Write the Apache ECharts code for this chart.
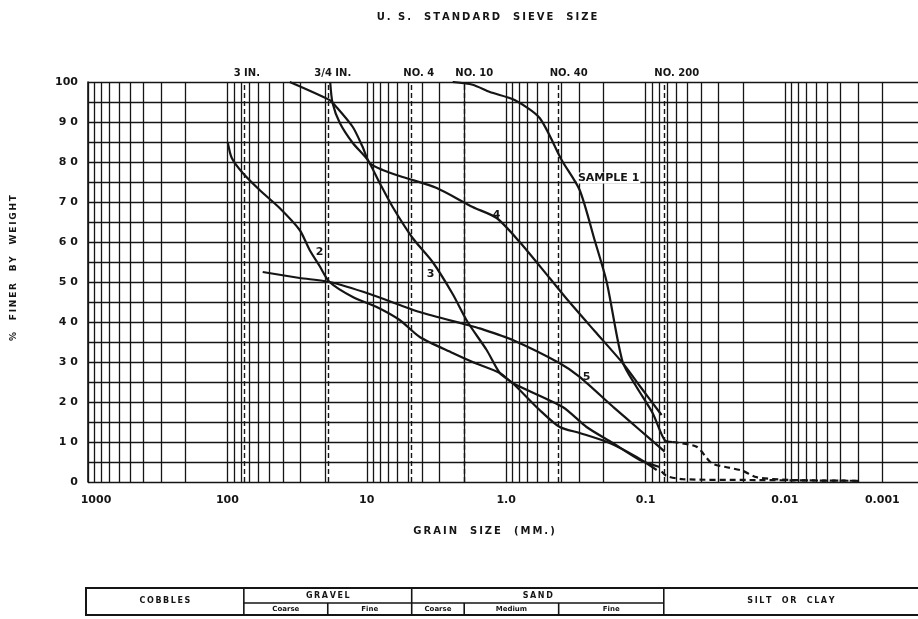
<!DOCTYPE html>
<html>
<head>
<meta charset="utf-8">
<script src="https://cdn.jsdelivr.net/npm/echarts@6/dist/echarts.min.js"></script>
<style>
  html, body { margin: 0; padding: 0; background: #fff; }
  #chart { width: 918px; height: 619px; }
</style>
</head>
<body>
<div id="chart"></div>
<script>
// grain size (mm) , % finer by weight
var sample1 = [[2.42,100],[1.74,99.3],[1.31,97.5],[0.87,95.5],[0.575,91],[0.40,80.5],[0.297,73],[0.232,60.5],[0.19,50],[0.146,30],[0.116,23.75],[0.089,17.25],[0.073,10.5],[0.064,10]];
var sample1Fines = [[0.064,10],[0.043,8.8],[0.0336,4.7],[0.0271,3.8],[0.0201,2.8],[0.016,1.2],[0.0093,0.5],[0.0029,0.3]];
var sample2 = [[99.5,85],[93,81],[77.6,77.25],[58.7,73],[42.2,68.5],[30.3,63],[25.7,58],[21.8,54],[18.5,50],[12.6,46.25],[8.49,43.75],[5.81,40.5],[4.17,36.25],[2.42,32.25],[1.74,30],[1.11,27.25],[0.90,24.75],[0.393,18.75],[0.265,13.75],[0.172,9.75],[0.110,5.5],[0.0792,3.75]];
var sample3 = [[18.3,100],[17.6,94.75],[15.6,89.75],[12.6,84.75],[9.85,80.5],[8.08,74.75],[6.52,68.75],[4.69,61],[3.37,55],[2.42,47],[1.89,40],[1.38,33],[1.11,27.25],[0.90,24.75],[0.575,18],[0.413,13.75],[0.297,12.25],[0.181,9.75],[0.116,6.25],[0.0832,3]];
var sample4 = [[35.7,100],[18.5,95.5],[17.0,94.25],[12.6,88.75],[10.7,83.75],[9.53,79.75],[7.69,78],[5.53,76.25],[3.15,73.5],[1.74,68.75],[1.17,66],[0.80,60],[0.488,51],[0.362,45.5],[0.232,37.75],[0.146,29.75],[0.110,24],[0.0767,16.75]];
var sample5 = [[55.8,52.5],[30.3,51],[18.5,50],[9.53,47],[4.17,42.5],[1.89,39.25],[1.55,38.4],[0.898,35.5],[0.413,29.7],[0.297,26.3],[0.171,18.8],[0.110,13],[0.0729,7.6]];
var finesLow = [[0.0767,2.6],[0.0706,1.5],[0.0542,0.7],[0.0179,0.5],[0.0029,0.3]];

// curve tags: [text, size mm, % finer]
var curveTags = [['SAMPLE 1',0.184,76],['2',21.8,57.5],['3',3.48,52],['4',1.17,66.75],['5',0.265,26.25]];

// sieve openings (mm)
var sieveNames = ['3 IN.','3/4 IN.','NO. 4','NO. 10','NO. 40','NO. 200'];
var sieveSizes = [76.2, 19.05, 4.76, 2.0, 0.42, 0.074];

// x tick labels; the printed "0.001" sits under the 0.002 line of the cropped sheet
var xTickText = ['1000','100','10','1.0','0.1','0.01','0.001'];
var xTickAt = [1000, 100, 10, 1, 0.1, 0.01, 0.002];

var xMin = 0.00111, xMax = 1000;

// log paper rulings 1..9 per decade
var gridValues = [1000];
for (var n = 2; n >= -3; n--) {
  for (var k = 9; k >= 1; k--) {
    var v = k * Math.pow(10, n);
    if (v >= xMin) gridValues.push(+v.toPrecision(3));
  }
}

var FONT = '"DejaVu Sans", sans-serif';
var INK = '#151515';

function spread(s) { return s.split('').join('\u2009'); }

function curve(name, data, dashed) {
  return {
    name: name, type: 'line', data: data, smooth: 0.25,
    symbol: 'none', silent: true, z: 5,
    lineStyle: { color: INK, width: 2.2, type: dashed ? [6, 4] : 'solid' }
  };
}

var chart = echarts.init(document.getElementById('chart'));

var tagSeries = curveTags.map(function (t) {
  return { coord: [t[1], t[2]], name: t[0] };
});

var option = {
  animation: false,
  backgroundColor: '#fff',
  grid: { left: 88, right: 0, top: 82, bottom: 137, containLabel: false, outerBoundsMode: 'none' },
  xAxis: {
    type: 'log', logBase: 10, inverse: true, min: xMin, max: xMax,
    axisLine: { show: false }, axisTick: { show: false },
    axisLabel: { show: false }, splitLine: { show: false }
  },
  yAxis: {
    type: 'value', min: 0, max: 100, interval: 5,
    axisLine: { show: true, lineStyle: { color: INK, width: 1.6 } },
    axisTick: { show: false },
    axisLabel: {
      margin: 10, color: INK, fontFamily: FONT, fontWeight: 'bold', fontSize: 11,
      formatter: function (v) {
        if (v % 10 !== 0) return '';
        if (v === 100 || v === 0) return String(v);
        return String(v).split('').join(' ');
      }
    },
    splitLine: { show: true, lineStyle: { color: INK, width: 1.3 } }
  },
  series: [
    {
      name: 'rulings', type: 'line', data: [], silent: true, z: 2,
      markLine: {
        silent: true, symbol: ['none', 'none'], animation: false, precision: 6,
        label: { show: false },
        lineStyle: { color: INK, width: 1.3, type: 'solid' },
        data: gridValues.map(function (v) { return { xAxis: v }; })
      }
    },
    {
      name: 'sieves', type: 'line', data: [], silent: true, z: 3,
      markLine: {
        silent: true, symbol: ['none', 'none'], animation: false, precision: 6,
        lineStyle: { color: INK, width: 1.4, type: [5, 3] },
        label: {
          show: true, position: 'end', distance: 4, color: INK,
          fontFamily: FONT, fontWeight: 'bold', fontSize: 10,
          formatter: function (p) { return p.name; }
        },
        data: sieveSizes.map(function (v, i) {
          var dx = [3, 5, 7, 10, 10, 13][i];
          return { xAxis: v, name: sieveNames[i], label: { offset: [dx, 0] } };
        })
      }
    },
    curve('Sample 1', sample1, false),
    curve('Sample 1 fines', sample1Fines, true),
    curve('2', sample2, false),
    curve('3', sample3, false),
    curve('4', sample4, false),
    curve('5', sample5, false),
    curve('fines', finesLow, true),
    {
      name: 'tags', type: 'line', data: [], silent: true, z: 6,
      markPoint: {
        symbol: 'circle', symbolSize: 0, silent: true, animation: false, precision: 6,
        label: {
          show: true, position: 'inside', color: INK, fontFamily: FONT,
          fontWeight: 'bold', fontSize: 11, backgroundColor: '#fff', padding: [0, 1],
          formatter: function (p) { return p.name; }
        },
        data: tagSeries
      }
    }
  ]
};

chart.setOption(option);

// texts and the soil classification strip, placed with the chart's own x scale
function px(v) { return chart.convertToPixel({ xAxisIndex: 0 }, v); }

var g = [];
g.push({ type: 'text', x: 487, y: 17, style: { text: spread('U. S.  STANDARD  SIEVE  SIZE'), fill: INK, font: 'bold 10px ' + FONT, textAlign: 'center', textVerticalAlign: 'middle' } });
g.push({ type: 'text', x: 484, y: 531, style: { text: spread('GRAIN  SIZE  (MM.)'), fill: INK, font: 'bold 10px ' + FONT, textAlign: 'center', textVerticalAlign: 'middle' } });
g.push({ type: 'text', x: 14, y: 268, rotation: Math.PI / 2, style: { text: spread('%  FINER  BY  WEIGHT'), fill: INK, font: 'bold 9px ' + FONT, textAlign: 'center', textVerticalAlign: 'middle' } });

xTickText.forEach(function (t, i) {
  g.push({ type: 'text', x: px(xTickAt[i]) + (i === 0 ? 8 : 0), y: 500, style: { text: t, fill: INK, font: 'bold 11px ' + FONT, textAlign: 'center', textVerticalAlign: 'middle' } });
});

// classification strip
var tTop = 588, tMid = 603, tBot = 615, tLeft = 86, tRight = 918;
var sx = sieveSizes.map(px);
var ls = { stroke: INK, lineWidth: 1.6 };
g.push({ type: 'rect', shape: { x: tLeft, y: tTop, width: tRight - tLeft + 4, height: tBot - tTop }, style: { fill: 'none', stroke: INK, lineWidth: 2 } });
[0, 2, 5].forEach(function (i) {
  g.push({ type: 'line', shape: { x1: sx[i], y1: tTop, x2: sx[i], y2: tBot }, style: ls });
});
g.push({ type: 'line', shape: { x1: sx[0], y1: tMid, x2: sx[5], y2: tMid }, style: ls });
[1, 3, 4].forEach(function (i) {
  g.push({ type: 'line', shape: { x1: sx[i], y1: tMid, x2: sx[i], y2: tBot }, style: ls });
});
function cell(text, x1, x2, y, size) {
  g.push({ type: 'text', x: (x1 + x2) / 2, y: y, style: { text: text, fill: INK, font: 'bold ' + size + 'px ' + FONT, textAlign: 'center', textVerticalAlign: 'middle' } });
}
cell(spread('COBBLES'), tLeft, sx[0], 601, 8);
cell(spread('GRAVEL'), sx[0], sx[2], 596, 8);
cell(spread('SAND'), sx[2], sx[5], 596, 8);
cell(spread('SILT  OR  CLAY'), sx[5], tRight, 601, 8);
cell('Coarse', sx[0], sx[1], 609.5, 7);
cell('Fine', sx[1], sx[2], 609.5, 7);
cell('Coarse', sx[2], sx[3], 609.5, 7);
cell('Medium', sx[3], sx[4], 609.5, 7);
cell('Fine', sx[4], sx[5], 609.5, 7);

chart.setOption({ graphic: g });
</script>
</body>
</html>
